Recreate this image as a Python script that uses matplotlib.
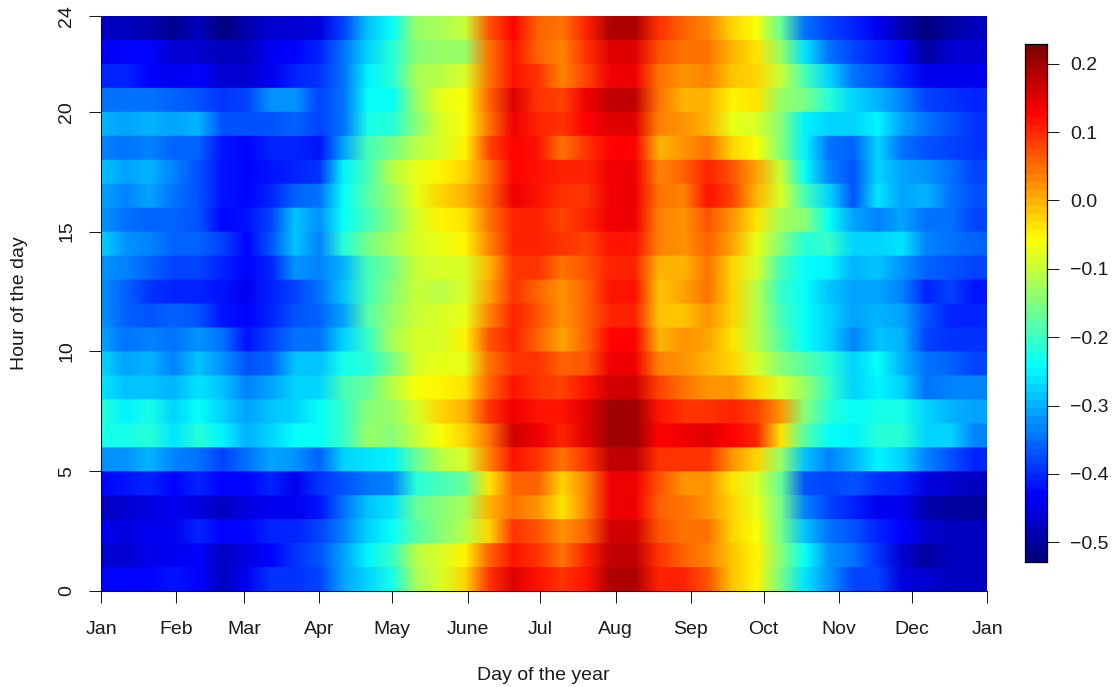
#!/usr/bin/env python3
# coding: utf8

import numpy as np
from matplotlib import pyplot as plt
from matplotlib.colors import LinearSegmentedColormap

plt.rcParams['font.family'] = ['Liberation Sans', 'DejaVu Sans']

# values read every 10 days (day 0, 10, ... 360), one list per hour
hour_00 = [-0.43,-0.43,-0.43,-0.42,-0.43,-0.47,-0.44,-0.39,-0.39,-0.38,-0.31,-0.27,-0.23,-0.12,-0.08,-0.03,0.09,0.15,0.12,0.09,0.12,0.19,0.19,0.11,0.10,0.07,-0.01,-0.05,-0.16,-0.26,-0.32,-0.38,-0.38,-0.45,-0.46,-0.47,-0.47]
hour_01 = [-0.46,-0.46,-0.44,-0.44,-0.43,-0.48,-0.45,-0.43,-0.39,-0.37,-0.31,-0.25,-0.20,-0.11,-0.09,-0.05,0.06,0.12,0.09,0.05,0.10,0.18,0.18,0.09,0.06,0.03,-0.01,-0.05,-0.15,-0.24,-0.32,-0.34,-0.39,-0.46,-0.50,-0.48,-0.47]
hour_02 = [-0.44,-0.45,-0.44,-0.44,-0.41,-0.43,-0.43,-0.40,-0.40,-0.38,-0.33,-0.27,-0.24,-0.18,-0.14,-0.11,-0.02,0.09,0.07,0.02,0.06,0.16,0.16,0.07,0.05,0.04,-0.02,-0.06,-0.16,-0.29,-0.34,-0.37,-0.40,-0.43,-0.46,-0.47,-0.47]
hour_03 = [-0.47,-0.46,-0.45,-0.44,-0.45,-0.48,-0.45,-0.44,-0.44,-0.42,-0.34,-0.29,-0.26,-0.17,-0.14,-0.12,0.00,0.05,0.02,-0.04,0.03,0.135,0.135,0.06,0.05,0.02,-0.02,-0.07,-0.16,-0.33,-0.38,-0.41,-0.44,-0.44,-0.49,-0.50,-0.50]
hour_04 = [-0.43,-0.42,-0.40,-0.43,-0.40,-0.43,-0.43,-0.41,-0.44,-0.39,-0.37,-0.35,-0.33,-0.21,-0.19,-0.17,-0.04,0.06,0.06,-0.02,0.03,0.135,0.14,0.07,0.02,0.02,-0.04,-0.08,-0.17,-0.37,-0.38,-0.37,-0.39,-0.41,-0.45,-0.46,-0.48]
hour_05 = [-0.32,-0.32,-0.30,-0.33,-0.34,-0.38,-0.34,-0.31,-0.32,-0.36,-0.27,-0.26,-0.25,-0.17,-0.11,-0.09,0.03,0.12,0.09,0.04,0.09,0.175,0.18,0.09,0.09,0.09,0.02,-0.02,-0.13,-0.29,-0.33,-0.30,-0.25,-0.28,-0.33,-0.37,-0.40]
hour_06 = [-0.23,-0.23,-0.21,-0.26,-0.22,-0.25,-0.30,-0.27,-0.24,-0.24,-0.20,-0.13,-0.14,-0.10,-0.06,-0.02,0.05,0.16,0.14,0.10,0.15,0.205,0.205,0.13,0.14,0.15,0.13,0.10,-0.04,-0.18,-0.24,-0.25,-0.22,-0.22,-0.27,-0.28,-0.33]
hour_07 = [-0.21,-0.25,-0.23,-0.27,-0.24,-0.28,-0.31,-0.29,-0.27,-0.24,-0.20,-0.15,-0.13,-0.08,-0.03,0.00,0.09,0.14,0.12,0.12,0.15,0.195,0.195,0.12,0.09,0.09,0.10,0.08,0.02,-0.14,-0.22,-0.24,-0.23,-0.23,-0.28,-0.30,-0.31]
hour_08 = [-0.26,-0.29,-0.29,-0.30,-0.26,-0.29,-0.33,-0.31,-0.28,-0.27,-0.19,-0.17,-0.11,-0.06,-0.05,-0.04,0.06,0.12,0.09,0.08,0.12,0.165,0.165,0.08,0.04,0.02,0.02,-0.03,-0.09,-0.13,-0.20,-0.27,-0.25,-0.28,-0.34,-0.33,-0.33]
hour_09 = [-0.27,-0.31,-0.30,-0.33,-0.29,-0.32,-0.37,-0.36,-0.29,-0.29,-0.23,-0.21,-0.16,-0.08,-0.07,-0.07,0.04,0.09,0.09,0.06,0.07,0.135,0.135,0.03,0.02,0.00,-0.03,-0.08,-0.14,-0.18,-0.22,-0.28,-0.24,-0.30,-0.35,-0.36,-0.38]
hour_10 = [-0.31,-0.34,-0.33,-0.34,-0.32,-0.34,-0.42,-0.38,-0.35,-0.34,-0.27,-0.20,-0.12,-0.09,-0.08,-0.05,0.07,0.11,0.06,0.01,0.06,0.125,0.125,0.00,0.02,0.01,-0.04,-0.11,-0.18,-0.24,-0.28,-0.33,-0.29,-0.30,-0.38,-0.39,-0.39]
hour_11 = [-0.32,-0.36,-0.37,-0.36,-0.37,-0.42,-0.43,-0.40,-0.37,-0.36,-0.31,-0.18,-0.13,-0.10,-0.09,-0.07,0.03,0.11,0.07,0.02,0.06,0.11,0.11,-0.01,-0.01,0.02,-0.03,-0.11,-0.19,-0.24,-0.28,-0.31,-0.30,-0.31,-0.37,-0.40,-0.41]
hour_12 = [-0.32,-0.36,-0.39,-0.40,-0.40,-0.42,-0.44,-0.41,-0.38,-0.34,-0.29,-0.19,-0.14,-0.10,-0.11,-0.08,0.01,0.09,0.06,0.02,0.06,0.12,0.12,-0.01,0.01,0.04,-0.03,-0.11,-0.20,-0.24,-0.29,-0.31,-0.31,-0.33,-0.40,-0.38,-0.42]
hour_13 = [-0.32,-0.33,-0.36,-0.38,-0.38,-0.41,-0.43,-0.40,-0.32,-0.33,-0.30,-0.19,-0.16,-0.10,-0.09,-0.08,0.00,0.09,0.09,0.05,0.07,0.11,0.11,0.00,0.00,0.04,-0.02,-0.09,-0.19,-0.24,-0.25,-0.30,-0.29,-0.32,-0.36,-0.37,-0.38]
hour_14 = [-0.28,-0.32,-0.33,-0.36,-0.36,-0.38,-0.43,-0.37,-0.29,-0.33,-0.22,-0.16,-0.12,-0.08,-0.07,-0.05,0.03,0.10,0.10,0.09,0.08,0.12,0.12,0.03,0.02,0.06,0.01,-0.07,-0.14,-0.22,-0.20,-0.28,-0.28,-0.26,-0.33,-0.35,-0.36]
hour_15 = [-0.32,-0.35,-0.36,-0.36,-0.37,-0.43,-0.42,-0.38,-0.29,-0.32,-0.24,-0.19,-0.14,-0.09,-0.05,-0.04,0.04,0.11,0.11,0.08,0.10,0.135,0.135,0.03,0.02,0.07,0.02,-0.04,-0.12,-0.15,-0.24,-0.31,-0.33,-0.31,-0.34,-0.35,-0.38]
hour_16 = [-0.31,-0.33,-0.31,-0.35,-0.37,-0.42,-0.43,-0.40,-0.36,-0.34,-0.24,-0.18,-0.13,-0.07,-0.02,0.00,0.06,0.14,0.12,0.09,0.09,0.135,0.135,0.04,0.03,0.12,0.08,0.00,-0.09,-0.19,-0.28,-0.37,-0.26,-0.31,-0.30,-0.34,-0.37]
hour_17 = [-0.29,-0.31,-0.30,-0.33,-0.37,-0.42,-0.43,-0.42,-0.41,-0.39,-0.25,-0.19,-0.11,-0.07,-0.05,-0.03,0.05,0.13,0.12,0.10,0.11,0.145,0.145,0.03,0.06,0.10,0.07,0.01,-0.10,-0.24,-0.33,-0.37,-0.27,-0.31,-0.32,-0.34,-0.38]
hour_18 = [-0.33,-0.34,-0.33,-0.36,-0.36,-0.42,-0.43,-0.41,-0.40,-0.42,-0.31,-0.19,-0.16,-0.11,-0.08,-0.05,0.08,0.13,0.12,0.05,0.09,0.125,0.125,0.00,0.02,0.05,-0.02,-0.06,-0.15,-0.25,-0.34,-0.36,-0.27,-0.34,-0.37,-0.38,-0.39]
hour_19 = [-0.30,-0.31,-0.30,-0.31,-0.30,-0.37,-0.37,-0.37,-0.36,-0.38,-0.34,-0.23,-0.21,-0.14,-0.08,-0.06,0.05,0.135,0.10,0.09,0.13,0.155,0.155,0.03,0.02,0.00,-0.07,-0.09,-0.15,-0.25,-0.28,-0.27,-0.25,-0.31,-0.35,-0.37,-0.39]
hour_20 = [-0.35,-0.34,-0.34,-0.36,-0.37,-0.39,-0.38,-0.32,-0.32,-0.38,-0.35,-0.24,-0.24,-0.13,-0.07,-0.06,0.06,0.15,0.09,0.08,0.135,0.18,0.18,0.05,0.00,0.00,-0.05,-0.04,-0.13,-0.16,-0.22,-0.27,-0.30,-0.33,-0.38,-0.39,-0.41]
hour_21 = [-0.41,-0.41,-0.43,-0.44,-0.43,-0.46,-0.46,-0.44,-0.40,-0.39,-0.35,-0.25,-0.22,-0.12,-0.11,-0.09,0.05,0.12,0.09,0.03,0.08,0.14,0.14,0.04,0.02,0.03,-0.01,-0.03,-0.10,-0.19,-0.28,-0.34,-0.37,-0.41,-0.435,-0.435,-0.435]
hour_22 = [-0.44,-0.43,-0.43,-0.46,-0.46,-0.48,-0.48,-0.44,-0.43,-0.40,-0.34,-0.27,-0.22,-0.15,-0.13,-0.13,0.04,0.115,0.06,0.03,0.09,0.155,0.155,0.07,0.04,0.04,0.00,-0.04,-0.13,-0.26,-0.35,-0.38,-0.40,-0.43,-0.50,-0.46,-0.46]
hour_23 = [-0.47,-0.47,-0.49,-0.51,-0.47,-0.52,-0.49,-0.46,-0.46,-0.45,-0.38,-0.29,-0.24,-0.13,-0.12,-0.10,0.07,0.13,0.06,0.04,0.11,0.19,0.19,0.09,0.06,0.03,-0.03,-0.06,-0.17,-0.34,-0.38,-0.40,-0.44,-0.49,-0.53,-0.50,-0.48]

hours = [hour_00, hour_01, hour_02, hour_03, hour_04, hour_05, hour_06, hour_07,
         hour_08, hour_09, hour_10, hour_11, hour_12, hour_13, hour_14, hour_15,
         hour_16, hour_17, hour_18, hour_19, hour_20, hour_21, hour_22, hour_23]

month_days = [0, 31, 59, 90, 120, 151, 181, 212, 243, 273, 304, 334, 365]
month_names = ['Jan', 'Feb', 'Mar', 'Apr', 'May', 'June', 'Jul', 'Aug', 'Sep', 'Oct', 'Nov', 'Dec', 'Jan']
hour_ticks = [0, 5, 10, 15, 20, 24]
bar_ticks = [-0.5, -0.4, -0.3, -0.2, -0.1, 0.0, 0.1, 0.2]
bar_labels = ['\u22120.5', '\u22120.4', '\u22120.3', '\u22120.2', '\u22120.1', '0.0', '0.1', '0.2']
vmin, vmax = -0.529, 0.229

W, H = 1112, 687
jet = LinearSegmentedColormap.from_list(
    'jet64', ['#00007F', '#0000FF', '#007FFF', '#00FFFF', '#7FFF7F',
              '#FFFF00', '#FF7F00', '#FF0000', '#7F0000'], N=64)

fig = plt.figure(figsize=(W / 100, H / 100), dpi=100)
ax = fig.add_axes([101 / W, (H - 591) / H, 886 / W, 575 / H])

# hours stay sharp bands, only the day axis gets smoothed
z = np.repeat(np.array(hours), 24, axis=0)
ax.imshow(z, origin='lower', extent=[-5, 365, 0, 24], aspect='auto', cmap=jet,
          vmin=vmin, vmax=vmax, interpolation='bilinear')
ax.set_xlim(0, 365)
ax.set_ylim(0, 24)

for s in ['top', 'right']:
    ax.spines[s].set_visible(False)
for s in ['left', 'bottom']:
    ax.spines[s].set_linewidth(0.75)

ax.set_xticks(month_days)
ax.set_xticklabels(month_names)
ax.set_yticks(hour_ticks)
ax.set_yticklabels(hour_ticks, rotation=90, va='center')
ax.tick_params(length=8.6, width=0.75, labelsize=14, colors='#1a1a1a')
ax.tick_params(axis='x', pad=13)
ax.tick_params(axis='y', pad=10)

fig.text(543 / W, (H - 676) / H, 'Day of the year', ha='center', va='center', fontsize=14, color='#1a1a1a')
fig.text(20 / W, (H - 303) / H, 'Hour of the day', ha='center', va='center', rotation=90, fontsize=14, color='#1a1a1a')

cax = fig.add_axes([1025 / W, (H - 562) / H, 22 / W, 518 / H])
levels = np.linspace(vmin, vmax, 65)
cax.pcolormesh([0, 1], levels, ((levels[:-1] + levels[1:]) / 2)[:, None], cmap=jet, vmin=vmin, vmax=vmax)
cax.set_xticks([])
cax.yaxis.tick_right()
cax.set_yticks(bar_ticks)
cax.set_yticklabels(bar_labels)
cax.tick_params(length=8.6, width=0.75, labelsize=14, pad=8, colors='#1a1a1a')
for s in cax.spines.values():
    s.set_linewidth(0.9)

fig.savefig('out.png', dpi=100)
